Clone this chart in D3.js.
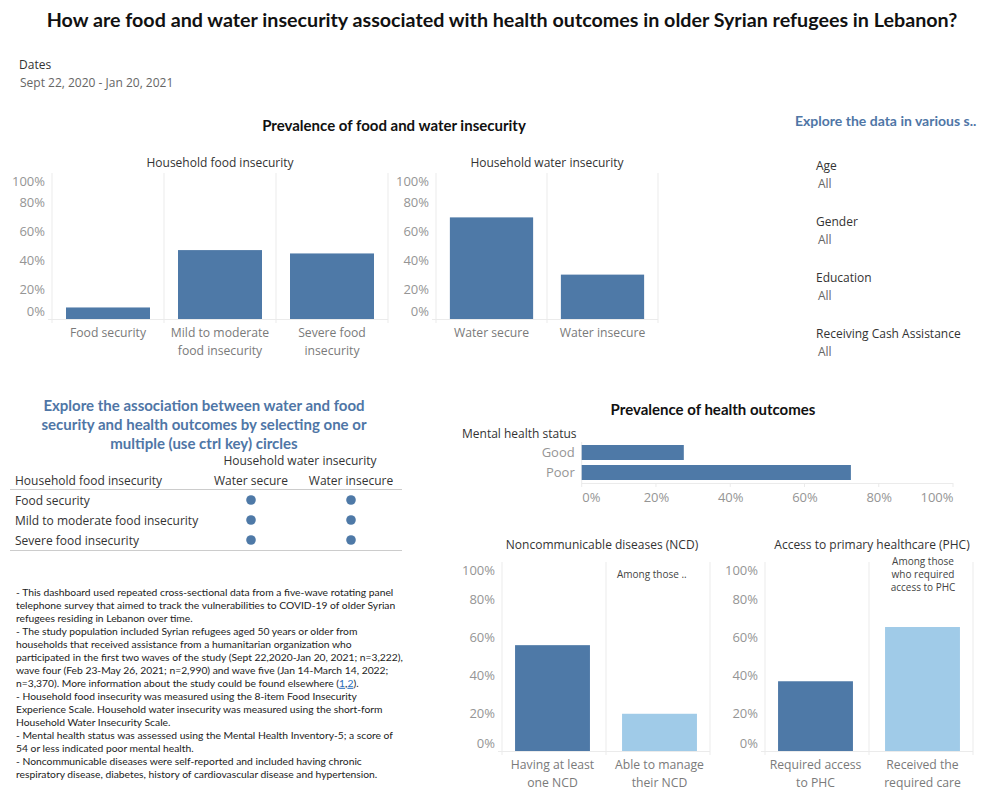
<!DOCTYPE html>
<html><head><meta charset="utf-8">
<script src="https://cdn.jsdelivr.net/npm/d3@7"></script>
<style>
body{margin:0;background:#fff;}
svg text{font-family:"Open Sans","Noto Sans",sans-serif;}
.cal{font-family:Lato,"Noto Sans",sans-serif;}
</style></head>
<body><svg id="c" width="999" height="799"></svg>
<script>
// ---------- DATA ----------
const pctTicks = [0, 0.2, 0.4, 0.6, 0.8, 1.0];
const foodCats = ["Food security", "Mild to moderate food insecurity", "Severe food insecurity"];
const foodLabels = [["Food security"], ["Mild to moderate", "food insecurity"], ["Severe food", "insecurity"]];
const foodValues = [0.079, 0.472, 0.449];
const waterCats = ["Water secure", "Water insecure"];
const waterValues = [0.696, 0.304];
const mentalCats = ["Good", "Poor"];
const mentalValues = [0.275, 0.725];
const ncdCats = ["Having at least one NCD", "Able to manage their NCD"];
const ncdLabels = [["Having at least", "one NCD"], ["Able to manage", "their NCD"]];
const ncdValues = [0.56, 0.197];
const phcCats = ["Required access to PHC", "Received the required care"];
const phcLabels = [["Required access", "to PHC"], ["Received the", "required care"]];
const phcValues = [0.369, 0.656];
const filterNames = ["Age", "Gender", "Education", "Receiving Cash Assistance"];
const notes = [
 "- This dashboard used repeated cross-sectional data from a five-wave rotating panel",
 "telephone survey that aimed to track the vulnerabilities to COVID-19 of older Syrian",
 "refugees residing in Lebanon over time.",
 "- The study population included Syrian refugees aged 50 years or older from",
 "households that received assistance from a humanitarian organization who",
 "participated in the first two waves of the study (Sept 22,2020-Jan 20, 2021; n=3,222),",
 "wave four (Feb 23-May 26, 2021; n=2,990) and wave five (Jan 14-March 14, 2022;",
 "n=3,370). More information about the study could be found elsewhere (|1|,|2|).",
 "- Household food insecurity was measured using the 8-item Food Insecurity",
 "Experience Scale. Household water insecurity was measured using the short-form",
 "Household Water Insecurity Scale.",
 "- Mental health status was assessed using the Mental Health Inventory-5; a score of",
 "54 or less indicated poor mental health.",
 "- Noncommunicable diseases were self-reported and included having chronic",
 "respiratory disease, diabetes, history of cardiovascular disease and hypertension."
];

// ---------- STYLE ----------
const DARK = "#4e79a7", LIGHT = "#a0cbe8", BLUE_T = "#4f76a6";
const GRID = "#ebebeb", TICK = "#959595", LAB = "#7a7a7a";
const svg = d3.select("#c");
const fmt = d3.format(".0%");

// Title
svg.append("text").attr("class","cal").attr("x", 502).attr("y", 27).attr("text-anchor","middle")
  .attr("font-size", 19.7).attr("font-weight","bold").attr("fill","#111")
  .text("How are food and water insecurity associated with health outcomes in older Syrian refugees in Lebanon?");
svg.append("text").attr("x", 19).attr("y", 69).attr("font-size", 12).attr("fill","#333").text("Dates");
svg.append("text").attr("x", 20).attr("y", 87).attr("font-size", 12).attr("fill","#666").text("Sept 22, 2020 - Jan 20, 2021");

svg.append("text").attr("class","cal").attr("x", 394).attr("y", 131).attr("text-anchor","middle")
  .attr("font-size", 15).attr("font-weight","bold").attr("fill","#111").text("Prevalence of food and water insecurity");

// vertical bar chart helper
function vbar(o) {
  const g = svg.append("g");
  const x = d3.scaleBand().domain(o.cats).range([o.x0, o.x1]).paddingInner(o.pi).paddingOuter(o.po);
  const y = d3.scaleLinear().domain([0, 1]).range([o.yBase, o.yTop]);
  const bounds = [o.x0].concat(o.cats.map((c,i)=> i < o.cats.length-1 ? x(o.cats[i+1]) - x.step()*x.paddingInner()/2 : o.x1));
  g.selectAll("line.sep").data(bounds).join("line").attr("x1", d=>d).attr("x2", d=>d)
    .attr("y1", o.yTop).attr("y2", o.yBase + 4).attr("stroke", GRID).attr("stroke-width", 1);
  g.append("line").attr("x1", o.x0 - 4).attr("x2", o.x1).attr("y1", o.yBase + 0.5).attr("y2", o.yBase + 0.5)
    .attr("stroke", GRID);
  const ax = g.append("g").attr("transform", `translate(${o.x0},0)`)
    .call(d3.axisLeft(y).tickValues(pctTicks).tickFormat(fmt).tickSize(0).tickPadding(7));
  ax.select(".domain").remove();
  ax.selectAll("text").attr("font-size", 13).attr("fill", TICK)
    .attr("font-family", "'Open Sans',sans-serif")
    .attr("dy", d => d === 0 ? "-0.25em" : d === 1 ? "0.95em" : "0.32em");
  g.selectAll("rect.bar").data(o.values).join("rect")
    .attr("x", (d,i) => x(o.cats[i])).attr("width", x.bandwidth())
    .attr("y", d => y(d)).attr("height", d => o.yBase - y(d))
    .attr("fill", (d,i) => o.colors[i]);
  o.labels.forEach((lines, i) => {
    const t = g.append("text").attr("x", x(o.cats[i]) + x.bandwidth()/2).attr("y", o.labY)
      .attr("text-anchor","middle").attr("font-size", 12.2).attr("fill", LAB);
    lines.forEach((l, j) => t.append("tspan").attr("x", x(o.cats[i]) + x.bandwidth()/2).attr("dy", j ? 18 : 0).text(l));
  });
  g.append("text").attr("x", o.titleX).attr("y", o.titleY).attr("text-anchor","middle")
    .attr("font-size", 12).attr("fill","#333").text(o.title);
  return {g, x, y};
}

vbar({cats: foodCats, labels: foodLabels, values: foodValues, colors: foodCats.map(()=>DARK),
  x0: 52, x1: 388, pi: 0.25, po: 0.125, yBase: 319, yTop: 173, labY: 337,
  title: "Household food insecurity", titleX: 220, titleY: 167});
vbar({cats: waterCats, labels: waterCats.map(d=>[d]), values: waterValues, colors: waterCats.map(()=>DARK),
  x0: 436, x1: 658, pi: 0.25, po: 0.125, yBase: 319, yTop: 173, labY: 337,
  title: "Household water insecurity", titleX: 547, titleY: 167});

// Filters panel
svg.append("text").attr("class","cal").attr("x", 795).attr("y", 126).attr("font-size", 14)
  .attr("font-weight","bold").attr("fill", BLUE_T).text("Explore the data in various s..");
filterNames.forEach((f, i) => {
  svg.append("text").attr("x", 816).attr("y", 170 + i*56).attr("font-size", 12).attr("fill","#333").text(f);
  svg.append("text").attr("x", 818).attr("y", 188 + i*56).attr("font-size", 12).attr("fill","#666").text("All");
});

// Association block
const assoc = ["Explore the association between water and food",
  "security and health outcomes by selecting one or", "multiple (use ctrl key) circles"];
assoc.forEach((l, i) => svg.append("text").attr("class","cal").attr("x", 204).attr("y", 411 + i*19)
  .attr("text-anchor","middle").attr("font-size", 15).attr("font-weight","bold").attr("fill", BLUE_T).text(l));
svg.append("text").attr("x", 300).attr("y", 465).attr("text-anchor","middle").attr("font-size", 12)
  .attr("fill","#333").text("Household water insecurity");
svg.append("text").attr("x", 15).attr("y", 485).attr("font-size", 12).attr("fill","#333").text("Household food insecurity");
const colX = d3.scalePoint().domain(waterCats).range([251, 351]);
const rowY = d3.scalePoint().domain(foodCats).range([500, 540]);
waterCats.forEach(w => svg.append("text").attr("x", colX(w)).attr("y", 485).attr("text-anchor","middle")
  .attr("font-size", 12).attr("fill","#333").text(w));
svg.append("line").attr("x1", 10).attr("x2", 402).attr("y1", 489.5).attr("y2", 489.5).attr("stroke","#ccc");
svg.append("line").attr("x1", 10).attr("x2", 402).attr("y1", 550.5).attr("y2", 550.5).attr("stroke","#ccc");
foodCats.forEach(f => {
  svg.append("text").attr("x", 15).attr("y", rowY(f) + 4.5).attr("font-size", 12).attr("fill","#333").text(f);
  waterCats.forEach(w => svg.append("circle").attr("cx", colX(w)).attr("cy", rowY(f)).attr("r", 4.8).attr("fill", DARK));
});

// Notes
const nt = svg.append("g").attr("class","cal");
notes.forEach((l, i) => {
  const t = nt.append("text").attr("class","cal").attr("x", 16).attr("y", 596 + i*12.97).attr("font-size", 10.3).attr("fill","#222");
  l.split("|").forEach((part, k) => {
    const s = t.append("tspan").text(part);
    if (k % 2 === 1) s.attr("fill", "#2a6ebb").attr("text-decoration","underline");
  });
});

// Health outcomes
svg.append("text").attr("class","cal").attr("x", 713).attr("y", 415).attr("text-anchor","middle")
  .attr("font-size", 15).attr("font-weight","bold").attr("fill","#111").text("Prevalence of health outcomes");
svg.append("text").attr("x", 462).attr("y", 438).attr("font-size", 12).attr("fill","#333").text("Mental health status");
{
  const x = d3.scaleLinear().domain([0, 1]).range([581.7, 953]);
  const y = d3.scaleBand().domain(mentalCats).range([442.5, 482.5]).paddingInner(0.25).paddingOuter(0.125);
  svg.append("line").attr("x1", 581.7).attr("x2", 953).attr("y1", 483.5).attr("y2", 483.5).attr("stroke", GRID);
  svg.selectAll("line.mg").data(pctTicks).join("line").attr("x1", d=>x(d)).attr("x2", d=>x(d))
    .attr("y1", 483).attr("y2", 487).attr("stroke", GRID);
  svg.append("line").attr("x1", 581.7).attr("x2", 581.7).attr("y1", 442).attr("y2", 483).attr("stroke", GRID);
  svg.selectAll("rect.mb").data(mentalValues).join("rect")
    .attr("x", x(0)).attr("y", (d,i)=>y(mentalCats[i])).attr("height", y.bandwidth())
    .attr("width", d => x(d) - x(0)).attr("fill", DARK);
  const ax = svg.append("g").attr("transform","translate(0,483)")
    .call(d3.axisBottom(x).tickValues(pctTicks).tickFormat(fmt).tickSize(0).tickPadding(10));
  ax.select(".domain").remove();
  ax.selectAll("text").attr("font-size", 13).attr("fill", TICK).attr("font-family","'Open Sans',sans-serif")
    .attr("text-anchor", d => d === 0 ? "start" : d === 1 ? "end" : "middle");
  const ay = svg.append("g").attr("transform","translate(581.7,0)")
    .call(d3.axisLeft(y).tickSize(0).tickPadding(7));
  ay.select(".domain").remove();
  ay.selectAll("text").attr("font-size", 13).attr("fill", TICK).attr("font-family","'Open Sans',sans-serif");
}

const ncd = vbar({cats: ncdCats, labels: ncdLabels, values: ncdValues, colors: [DARK, LIGHT],
  x0: 502, x1: 710, pi: 0.3, po: 0.122, yBase: 751, yTop: 562, labY: 769,
  title: "Noncommunicable diseases (NCD)", titleX: 602, titleY: 549});
ncd.g.append("text").attr("x", 617).attr("y", 578).attr("font-size", 10).attr("fill","#444").text("Among those ..");

const phc = vbar({cats: phcCats, labels: phcLabels, values: phcValues, colors: [DARK, LIGHT],
  x0: 765, x1: 973, pi: 0.3, po: 0.122, yBase: 751, yTop: 562, labY: 769,
  title: "Access to primary healthcare (PHC)", titleX: 872, titleY: 549});
["Among those", "who required", "access to PHC"].forEach((l, i) =>
  phc.g.append("text").attr("x", 923).attr("y", 565 + i*13).attr("text-anchor","middle")
    .attr("font-size", 10).attr("fill","#444").text(l));
</script></body></html>
